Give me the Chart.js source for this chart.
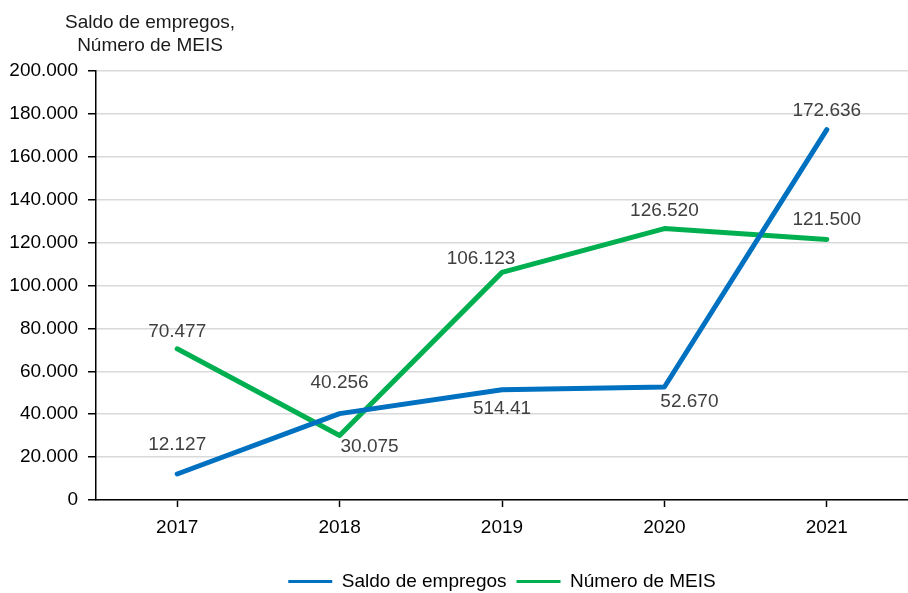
<!DOCTYPE html>
<html>
<head>
<meta charset="utf-8">
<script src="https://cdn.jsdelivr.net/npm/chart.js@4/dist/chart.umd.min.js"></script>
<style>
  html, body { margin: 0; padding: 0; background: #ffffff; overflow: hidden; }
  #wrap { position: relative; width: 908px; height: 593px; }
</style>
</head>
<body>
<div id="wrap"><canvas id="c" width="908" height="593"></canvas></div>
<script>
const years = ['2017', '2018', '2019', '2020', '2021'];
const saldoEmpregos = [12127, 40256, 51441, 52670, 172636];
const numeroMEIS = [70477, 30075, 106123, 126520, 121500];
const saldoLabels = ['12.127', '40.256', '514.41', '52.670', '172.636'];
const meisLabels = ['70.477', '30.075', '106.123', '126.520', '121.500'];
const yTicks = [0, 20000, 40000, 60000, 80000, 100000, 120000, 140000, 160000, 180000, 200000];
const axisTitle = ['Saldo de empregos,', 'Número de MEIS'];
const seriesNames = ['Saldo de empregos', 'Número de MEIS'];

// label placement offsets (px, relative to the point)
const saldoOffsets = [[0, -29], [0, -31], [0, 19], [25, 15], [0, -19]];
const meisOffsets = [[0, -17], [30, 11.5], [-21, -14], [0, -18], [0, -20]];

const FONT = '"Liberation Sans Narrow", "Arial Narrow", "Liberation Sans", Arial, sans-serif';
const FS = 19;
const BLUE = '#0070C0';
const GREEN = '#00B050';

function fmt(v) {
  return v.toLocaleString('de-DE');
}

const labelPlugin = {
  id: 'pointLabels',
  afterDatasetsDraw(chart) {
    const ctx = chart.ctx;
    ctx.save();
    ctx.font = FS + 'px ' + FONT;
    ctx.fillStyle = '#404040';
    ctx.textAlign = 'center';
    ctx.textBaseline = 'middle';
    const sets = [[saldoLabels, saldoOffsets], [meisLabels, meisOffsets]];
    sets.forEach(([labs, offs], di) => {
      const meta = chart.getDatasetMeta(di);
      meta.data.forEach((pt, i) => {
        ctx.fillText(labs[i], pt.x + offs[i][0], pt.y + offs[i][1]);
      });
    });
    ctx.restore();
  }
};

const titlePlugin = {
  id: 'axisTitle',
  afterDraw(chart) {
    const ctx = chart.ctx;
    ctx.save();
    ctx.font = FS + 'px ' + FONT;
    ctx.fillStyle = '#1a1a1a';
    ctx.textAlign = 'center';
    ctx.textBaseline = 'middle';
    ctx.fillText(axisTitle[0], 150, 23);
    ctx.fillText(axisTitle[1], 150, 46);
    ctx.restore();
  }
};

new Chart(document.getElementById('c'), {
  type: 'line',
  data: {
    labels: years,
    datasets: [
      {
        label: seriesNames[0],
        data: saldoEmpregos,
        borderColor: BLUE,
        backgroundColor: BLUE,
        borderWidth: 5,
        pointRadius: 0,
        tension: 0,
        borderCapStyle: 'round',
        borderJoinStyle: 'round'
      },
      {
        label: seriesNames[1],
        data: numeroMEIS,
        borderColor: GREEN,
        backgroundColor: GREEN,
        borderWidth: 5,
        pointRadius: 0,
        tension: 0,
        borderCapStyle: 'round',
        borderJoinStyle: 'round'
      }
    ]
  },
  options: {
    responsive: false,
    animation: false,
    devicePixelRatio: 1,
    layout: { padding: { top: 71, left: 0, right: 0, bottom: -8 } },
    scales: {
      x: {
        offset: true,
        afterFit(scale) { scale.height = 62; },
        grid: {
          offset: false,
          drawOnChartArea: false,
          drawTicks: true,
          tickLength: 7,
          tickColor: '#000000',
          tickWidth: 1.5
        },
        border: { color: '#000000', width: 1.5 },
        ticks: {
          color: '#000000',
          font: { family: FONT, size: FS },
          padding: 9,
          maxRotation: 0
        }
      },
      y: {
        min: 0,
        max: 200000,
        afterFit(scale) { scale.width = 96; },
        afterBuildTicks(scale) { scale.ticks = yTicks.map(v => ({ value: v })); },
        grid: {
          color: '#d9d9d9',
          lineWidth: 1.5,
          drawTicks: true,
          tickLength: 8,
          tickColor: '#000000',
          tickWidth: 1.5
        },
        border: { color: '#000000', width: 1.5 },
        ticks: {
          color: '#000000',
          font: { family: FONT, size: FS },
          padding: 10,
          callback: (v) => fmt(v)
        }
      }
    },
    plugins: {
      legend: {
        position: 'bottom',
        fullSize: false,
        labels: {
          usePointStyle: true,
          pointStyle: 'line',
          pointStyleWidth: 44,
          color: '#000000',
          font: { family: FONT, size: FS },
          padding: 10,
          generateLabels(chart) {
            return chart.data.datasets.map((ds, i) => ({
              text: ds.label,
              fillStyle: ds.borderColor,
              strokeStyle: ds.borderColor,
              lineWidth: 3,
              pointStyle: 'line',
              datasetIndex: i,
              hidden: false,
              fontColor: '#000000'
            }));
          }
        }
      },
      tooltip: { enabled: false },
      title: { display: false }
    }
  },
  plugins: [labelPlugin, titlePlugin]
});
</script>
</body>
</html>
